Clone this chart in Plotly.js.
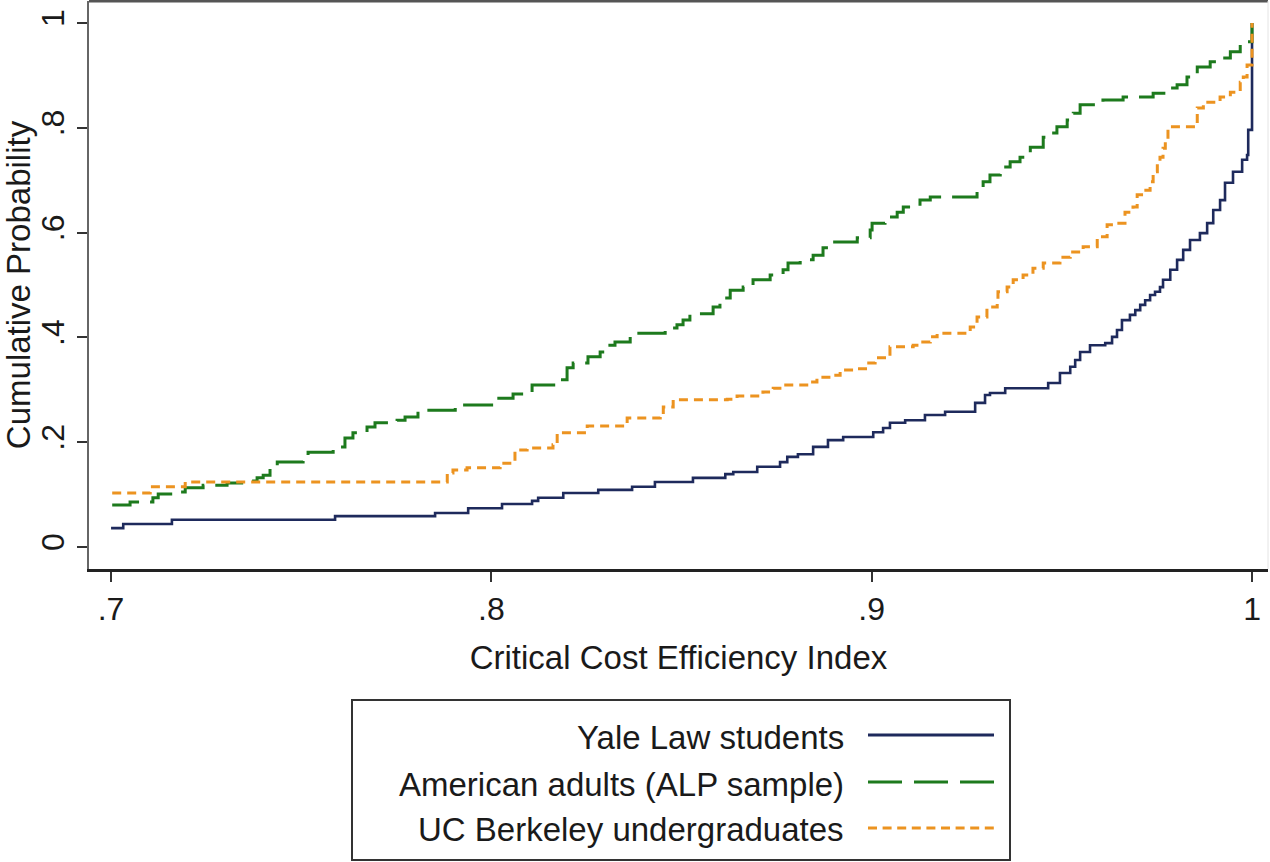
<!DOCTYPE html>
<html>
<head>
<meta charset="utf-8">
<script src="https://cdn.plot.ly/plotly-3.0.1.min.js"></script>
<style>
  html, body { margin: 0; padding: 0; background: #fff; }
  #cdf { width: 1270px; height: 862px; }
</style>
</head>
<body>
<div id="cdf"></div>
<script>
var yaleX = [0.7000,0.7032,0.7160,0.7589,0.7852,0.7939,0.8028,0.8107,0.8123,0.8189,0.8281,0.8370,0.8430,0.8530,0.8615,0.8636,0.8699,0.8759,0.8778,0.8806,0.8846,0.8885,0.8925,0.9004,0.9030,0.9048,0.9088,0.9140,0.9193,0.9272,0.9298,0.9311,0.9351,0.9464,0.9495,0.9522,0.9535,0.9548,0.9574,0.9614,0.9632,0.9645,0.9658,0.9679,0.9693,0.9706,0.9719,0.9732,0.9745,0.9758,0.9766,0.9785,0.9803,0.9819,0.9837,0.9863,0.9882,0.9898,0.9916,0.9929,0.9950,0.9974,0.9987,0.9990,1.0];
var yaleY = [0.036,0.044,0.052,0.059,0.065,0.074,0.082,0.088,0.094,0.103,0.109,0.115,0.124,0.132,0.139,0.143,0.153,0.162,0.172,0.177,0.191,0.204,0.210,0.219,0.227,0.237,0.242,0.252,0.258,0.275,0.290,0.294,0.303,0.313,0.332,0.344,0.357,0.372,0.385,0.389,0.401,0.414,0.433,0.443,0.452,0.462,0.471,0.481,0.487,0.496,0.510,0.529,0.548,0.567,0.586,0.599,0.618,0.643,0.662,0.695,0.716,0.739,0.748,0.796,1.0];

var alpX = [0.7003,0.7050,0.7110,0.7124,0.7174,0.7195,0.7242,0.7305,0.7358,0.7384,0.7400,0.7418,0.7437,0.7505,0.7518,0.7584,0.7615,0.7636,0.7673,0.7694,0.7752,0.7773,0.7807,0.7905,0.8015,0.8057,0.8107,0.8175,0.8199,0.8215,0.8254,0.8286,0.8304,0.8325,0.8365,0.8457,0.8488,0.8504,0.8522,0.8583,0.8601,0.8628,0.8662,0.8688,0.8733,0.8767,0.8780,0.8812,0.8846,0.8872,0.8885,0.8962,0.8996,0.9001,0.9035,0.9067,0.9083,0.9127,0.9154,0.9277,0.9293,0.9311,0.9338,0.9364,0.9390,0.9417,0.9451,0.9474,0.9487,0.9514,0.9530,0.9548,0.9608,0.9661,0.9740,0.9777,0.9803,0.9829,0.9856,0.9890,0.9916,0.9943,0.9969,0.9987,1.0];
var alpY = [0.080,0.086,0.094,0.101,0.105,0.113,0.118,0.122,0.126,0.132,0.137,0.151,0.162,0.172,0.181,0.191,0.208,0.218,0.229,0.237,0.242,0.248,0.261,0.271,0.284,0.292,0.309,0.319,0.342,0.351,0.363,0.372,0.385,0.391,0.408,0.418,0.424,0.433,0.445,0.458,0.475,0.490,0.496,0.510,0.519,0.529,0.542,0.548,0.557,0.571,0.582,0.590,0.605,0.618,0.630,0.639,0.649,0.662,0.668,0.681,0.697,0.710,0.725,0.735,0.744,0.763,0.782,0.790,0.802,0.815,0.828,0.844,0.853,0.859,0.866,0.876,0.882,0.897,0.916,0.926,0.933,0.945,0.958,0.964,1.0];

var ucbX = [0.7003,0.7103,0.7195,0.7884,0.7899,0.7936,0.8023,0.8062,0.8094,0.8162,0.8173,0.8252,0.8357,0.8444,0.8452,0.8478,0.8620,0.8646,0.8714,0.8741,0.8767,0.8838,0.8856,0.8899,0.8917,0.8962,0.8988,0.9009,0.9048,0.9109,0.9127,0.9154,0.9172,0.9259,0.9277,0.9303,0.9330,0.9332,0.9356,0.9372,0.9398,0.9424,0.9451,0.9495,0.9522,0.9556,0.9593,0.9619,0.9645,0.9666,0.9687,0.9698,0.9714,0.9732,0.9740,0.9751,0.9758,0.9766,0.9772,0.9779,0.9856,0.9872,0.9916,0.9943,0.9969,0.9977,0.9987,1.0];
var ucbY = [0.103,0.115,0.124,0.141,0.147,0.151,0.160,0.185,0.189,0.195,0.218,0.231,0.246,0.252,0.267,0.281,0.282,0.288,0.296,0.303,0.309,0.315,0.324,0.328,0.338,0.340,0.351,0.361,0.382,0.385,0.391,0.401,0.408,0.420,0.439,0.458,0.471,0.487,0.496,0.510,0.519,0.532,0.542,0.553,0.563,0.573,0.592,0.615,0.618,0.639,0.649,0.672,0.681,0.697,0.716,0.733,0.744,0.761,0.773,0.802,0.838,0.849,0.859,0.868,0.887,0.897,0.920,1.0];

var seriesNames = ['Yale Law students', 'American adults (ALP sample)', 'UC Berkeley undergraduates'];
var xTickVals = [0.7, 0.8, 0.9, 1];
var xTickText = ['.7', '.8', '.9', '1'];
var yTickVals = [0, 0.2, 0.4, 0.6, 0.8, 1];
var yTickText = ['0', '.2', '.4', '.6', '.8', '1'];

var colors = ['#1e2a5c', '#1d7a1d', '#ec9320'];
var dashes = ['solid', '30px,11px', '9px,6px'];
var keyDashes = ['solid', '34px,12px', '9px,5.6px'];
var FONT = 'Liberation Sans, Arial, sans-serif';

function chart(){
var W = 1270, H = 862;
var m = {l: 89, r: 2, t: 1, b: 293};
var pw = W - m.l - m.r, ph = H - m.t - m.b;
/* pixel -> paper helpers, only for the hand-made legend */
function px(x){ return (x - m.l) / pw; }
function py(y){ return (H - m.b - y) / ph; }

var xs = [yaleX, alpX, ucbX], ys = [yaleY, alpY, ucbY];
var data = [];
for (var i = 0; i < 3; i++) {
  data.push({
    x: xs[i], y: ys[i],
    name: seriesNames[i],
    type: 'scatter', mode: 'lines',
    line: {shape: 'hv', color: colors[i], width: (i == 0 ? 2.6 : 3), dash: dashes[i]},
    hoverinfo: 'skip'
  });
}

var shapes = [
  /* top frame line */
  {type: 'line', xref: 'paper', yref: 'paper', x0: 0, x1: 1, y0: 1, y1: 1,
   line: {color: '#555', width: 3}},
  {type: 'line', xref: 'paper', yref: 'paper', x0: 1, x1: 1, y0: 0, y1: 1,
   line: {color: '#e4e4e4', width: 1}},
  /* legend box */
  {type: 'rect', xref: 'paper', yref: 'paper', x0: px(352), x1: px(1010), y0: py(860), y1: py(700),
   line: {color: '#333', width: 2}, fillcolor: 'rgba(0,0,0,0)'}
];
var annotations = [];
var rows = [737, 784, 830];
for (var k = 0; k < 3; k++) {
  shapes.push({type: 'line', xref: 'paper', yref: 'paper',
    x0: px(868), x1: px(994), y0: py(rows[k] - 2), y1: py(rows[k] - 2),
    line: {color: colors[k], width: 3, dash: keyDashes[k]}});
  annotations.push({xref: 'paper', yref: 'paper', x: px(846), y: py(rows[k]),
    xanchor: 'right', yanchor: 'middle', showarrow: false, text: seriesNames[k],
    font: {family: FONT, size: 33, color: '#1a1a1a'}});
}

var layout = {
  width: W, height: H,
  margin: m,
  paper_bgcolor: '#fff', plot_bgcolor: '#fff',
  showlegend: false,
  font: {family: FONT, color: '#1a1a1a'},
  xaxis: {
    range: [0.6942, 1.0042],
    tickvals: xTickVals, ticktext: xTickText,
    ticks: 'outside', ticklen: 10, tickwidth: 2, tickcolor: '#333',
    showline: true, linecolor: '#222', linewidth: 3,
    showgrid: false, zeroline: false,
    tickfont: {family: FONT, size: 32, color: '#1a1a1a'},
    title: {text: 'Critical Cost Efficiency Index', font: {family: FONT, size: 33, color: '#1a1a1a'}, standoff: 20}
  },
  yaxis: {
    range: [-0.042, 1.042],
    tickvals: yTickVals, ticktext: yTickText, tickangle: -90,
    ticks: 'outside', ticklen: 10, tickwidth: 2, tickcolor: '#333',
    showline: true, linecolor: '#666', linewidth: 2,
    showgrid: false, zeroline: false,
    tickfont: {family: FONT, size: 32, color: '#1a1a1a'},
    title: {text: 'Cumulative Probability', font: {family: FONT, size: 33, color: '#1a1a1a'}, standoff: 0}
  },
  shapes: shapes,
  annotations: annotations
};

Plotly.newPlot('cdf', data, layout, {staticPlot: true});
}
chart();
</script>
</body>
</html>
